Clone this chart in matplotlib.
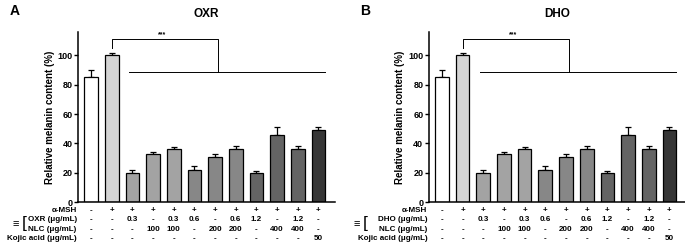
import matplotlib
matplotlib.use("Agg")
import matplotlib.pyplot as plt
import numpy as np

plt.rcParams['font.family'] = ['Liberation Sans', 'DejaVu Sans']
plt.rcParams['font.weight'] = 'bold'

# data
means = [85, 100, 20, 33, 36.5, 22, 31, 36, 19.5, 46, 36, 49]
errs = [5, 2, 2, 1, 1, 2.5, 2, 2.5, 1.5, 5, 2.5, 2]
bar_colors = ['#ffffff', '#d4d4d4', '#a3a3a3', '#a3a3a3', '#a3a3a3',
              '#878787', '#878787', '#878787', '#646464', '#646464', '#646464', '#363636']

msh_row = ['-'] + ['+'] * 11
drug_row = ['-', '-', '0.3', '-', '0.3', '0.6', '-', '0.6', '1.2', '-', '1.2', '-']
nlc_row = ['-', '-', '-', '100', '100', '-', '200', '200', '-', '400', '400', '-']
kojic_row = ['-'] * 11 + ['50']

# letter, drug name, axes left, axes width, x of the "≡[" mark (pixels)
panels = [('A', 'OXR', 0.114, 0.375, 16), ('B', 'DHO', 0.626, 0.374, 357)]

fig = plt.figure(figsize=(6.85, 2.47), dpi=100)

W = 685.0
H = 247.0
for letter, name, left, width, brx in panels:
    ax = fig.add_axes([left, 1 - 202 / H, width, 170 / H])
    x = np.arange(len(means))
    ax.bar(x, means, width=0.66, color=bar_colors, edgecolor='black', linewidth=0.9, zorder=2)
    ax.errorbar(x, means, yerr=[np.zeros(len(errs)), errs], fmt='none', ecolor='black',
                elinewidth=0.9, capsize=2.3, capthick=0.9, zorder=1)
    ax.set_ylim(0, 116)
    xmax = 11.8 if letter == 'A' else 11.75
    ax.set_xlim(-0.63, xmax)
    ax.spines['top'].set_visible(False)
    ax.spines['right'].set_visible(False)
    ax.spines['left'].set_linewidth(1.1)
    ax.spines['bottom'].set_linewidth(1.1)
    ax.set_xticks([])
    ax.set_yticks([0, 20, 40, 60, 80, 100])
    ax.tick_params(axis='y', labelsize=6.5, width=1.0, length=3, pad=1)
    for t in ax.get_yticklabels():
        t.set_fontweight('bold')
    ax.set_ylabel('Relative melanin content (%)', fontsize=7, fontweight='bold', labelpad=2)
    ax.set_title(name, fontsize=8.5, fontweight='bold', pad=11)

    # significance bracket
    ax.plot([1, 1, 6.15, 6.15], [105, 111, 111, 88.5], color='black', lw=0.7, clip_on=False)
    ax.plot([1.85, 11.3], [88.5, 88.5], color='black', lw=0.7, clip_on=False)
    ax.text(3.45, 111.5, '***', ha='center', va='bottom', fontsize=5)

    # treatment table
    trans = ax.get_xaxis_transform()
    rows = [('α-MSH', msh_row), (name + ' (μg/mL)', drug_row),
            ('NLC (μg/mL)', nlc_row), ('Kojic acid (μg/mL)', kojic_row)]
    ys = [-0.05, -0.105, -0.16, -0.213]
    for (lab, vals), yy in zip(rows, ys):
        ax.text(-0.7, yy, lab, transform=trans, ha='right', va='center', fontsize=5.8,
                fontweight='bold')
        for xi, v in zip(x, vals):
            ax.text(xi, yy, v, transform=trans, ha='center', va='center', fontsize=5.8,
                    fontweight='bold')

    # bracket grouping drug + NLC rows
    fig.text(brx / W, 1 - 224 / H, '≡', ha='center', va='center',
             fontsize=8, fontweight='normal')
    fig.text((brx + 8) / W, 1 - 223 / H, '[', ha='center', va='center',
             fontsize=12.5, fontweight='normal')

    fig.text(left - 0.1, 0.955, letter, fontsize=10, fontweight='bold', ha='left', va='center')

fig.savefig('out.png', dpi=100)
